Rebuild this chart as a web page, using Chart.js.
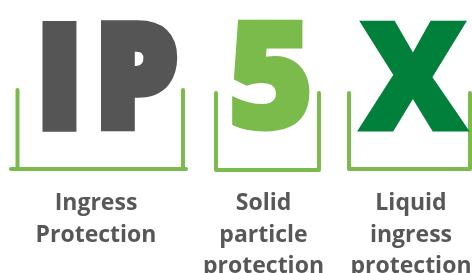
<!DOCTYPE html>
<html>
<head>
<meta charset="utf-8">
<script src="https://cdn.jsdelivr.net/npm/chart.js@4/dist/chart.umd.min.js"></script>
<style>
  html, body { margin: 0; padding: 0; background: #ffffff; }
  #wrap { width: 472px; height: 273px; position: relative; }
</style>
</head>
<body>
<div id="wrap"><canvas id="c"></canvas></div>
<script>
// ---- content ----
const symbols = ['IP', '5', 'X'];
const captions = [
  ['Ingress', 'Protection'],
  ['Solid', 'particle', 'protection'],
  ['Liquid', 'ingress', 'protection']
];
const symbolColors = ['#555555', '#7bbb4b', '#00803a'];

// ---- layout (in the chart's own x/y units) ----
const bracketLeft = [17.5, 216, 349];
const bracketRight = [183, 319, 470];
const bracketTop = [90, 93, 93];
const bracketBottom = [169, 170, 169];
const bottomStart = [11, 216, 349];
const bottomEnd = [186, 319, 470];
const glyphLeft = [42, 232, 358];
const glyphRight = [178, 310, 469];
const glyphTop = [20, 19, 20];
const glyphBottom = [131, 132, 131];
const glyphWeight = [9, 5, 3];
const glyphGap = [20, 0, 0];
const captionX = [96, 263.5, 411];
const captionBaseline = [210, 241.5, 273];

const bracketColor = '#7bbb4b';
const captionColor = '#575757';

const datasets = symbols.map((s, i) => ({
  label: s,
  data: [
    { x: bracketLeft[i], y: bracketTop[i] },
    { x: bracketLeft[i], y: bracketBottom[i] },
    { x: bottomStart[i], y: bracketBottom[i] },
    { x: bottomEnd[i], y: bracketBottom[i] },
    { x: bracketRight[i], y: bracketBottom[i] },
    { x: bracketRight[i], y: bracketTop[i] }
  ],
  showLine: true,
  borderColor: bracketColor,
  backgroundColor: bracketColor,
  borderWidth: 4,
  borderCapStyle: 'round',
  borderJoinStyle: 'round',
  pointRadius: 0,
  tension: 0,
  fill: false,
  clip: false
}));

const textPlugin = {
  id: 'ipText',
  afterDatasetsDraw(chart) {
    const ctx = chart.ctx;
    const xs = chart.scales.x, ys = chart.scales.y;
    symbols.forEach((s, i) => {
      const t = glyphWeight[i];
      const x0 = xs.getPixelForValue(glyphLeft[i]) + t / 2;
      const x1 = xs.getPixelForValue(glyphRight[i]) - t / 2;
      const y0 = ys.getPixelForValue(glyphTop[i]) + t / 2;
      const y1 = ys.getPixelForValue(glyphBottom[i]) - t / 2;
      ctx.save();
      ctx.font = '800 200px "Open Sans"';
      ctx.textAlign = 'left';
      ctx.textBaseline = 'alphabetic';
      const chars = s.split('');
      let pen = 0, minL = Infinity, maxR = -Infinity, asc = 0, desc = 0;
      const pos = [];
      chars.forEach((c) => {
        const m = ctx.measureText(c);
        pos.push(pen);
        minL = Math.min(minL, pen - m.actualBoundingBoxLeft);
        maxR = Math.max(maxR, pen + m.actualBoundingBoxRight);
        asc = Math.max(asc, m.actualBoundingBoxAscent);
        desc = Math.max(desc, m.actualBoundingBoxDescent);
        pen += m.width + glyphGap[i];
      });
      const w = maxR - minL, h = asc + desc;
      const sx = (x1 - x0) / w, sy = (y1 - y0) / h;
      ctx.translate(x0, y0);
      ctx.scale(sx, sy);
      ctx.fillStyle = symbolColors[i];
      ctx.strokeStyle = symbolColors[i];
      ctx.lineJoin = 'miter';
      ctx.lineWidth = t / ((sx + sy) / 2);
      chars.forEach((c, k) => {
        ctx.fillText(c, pos[k] - minL, asc);
        if (t > 0) ctx.strokeText(c, pos[k] - minL, asc);
      });
      ctx.restore();
    });
    ctx.save();
    ctx.font = 'bold 23px "Open Sans"';
    ctx.fillStyle = captionColor;
    ctx.textAlign = 'center';
    ctx.textBaseline = 'alphabetic';
    captions.forEach((lines, i) => {
      const cx = xs.getPixelForValue(captionX[i]);
      lines.forEach((t, j) => {
        ctx.fillText(t, cx, ys.getPixelForValue(captionBaseline[j]));
      });
    });
    ctx.restore();
  }
};

new Chart(document.getElementById('c'), {
  type: 'scatter',
  data: { datasets },
  options: {
    responsive: true,
    maintainAspectRatio: false,
    animation: false,
    layout: { padding: 0 },
    plugins: { legend: { display: false }, tooltip: { enabled: false } },
    scales: {
      x: { type: 'linear', display: false, min: 0, max: 472 },
      y: { type: 'linear', display: false, min: 0, max: 273, reverse: true }
    }
  },
  plugins: [textPlugin]
});
</script>
</body>
</html>
